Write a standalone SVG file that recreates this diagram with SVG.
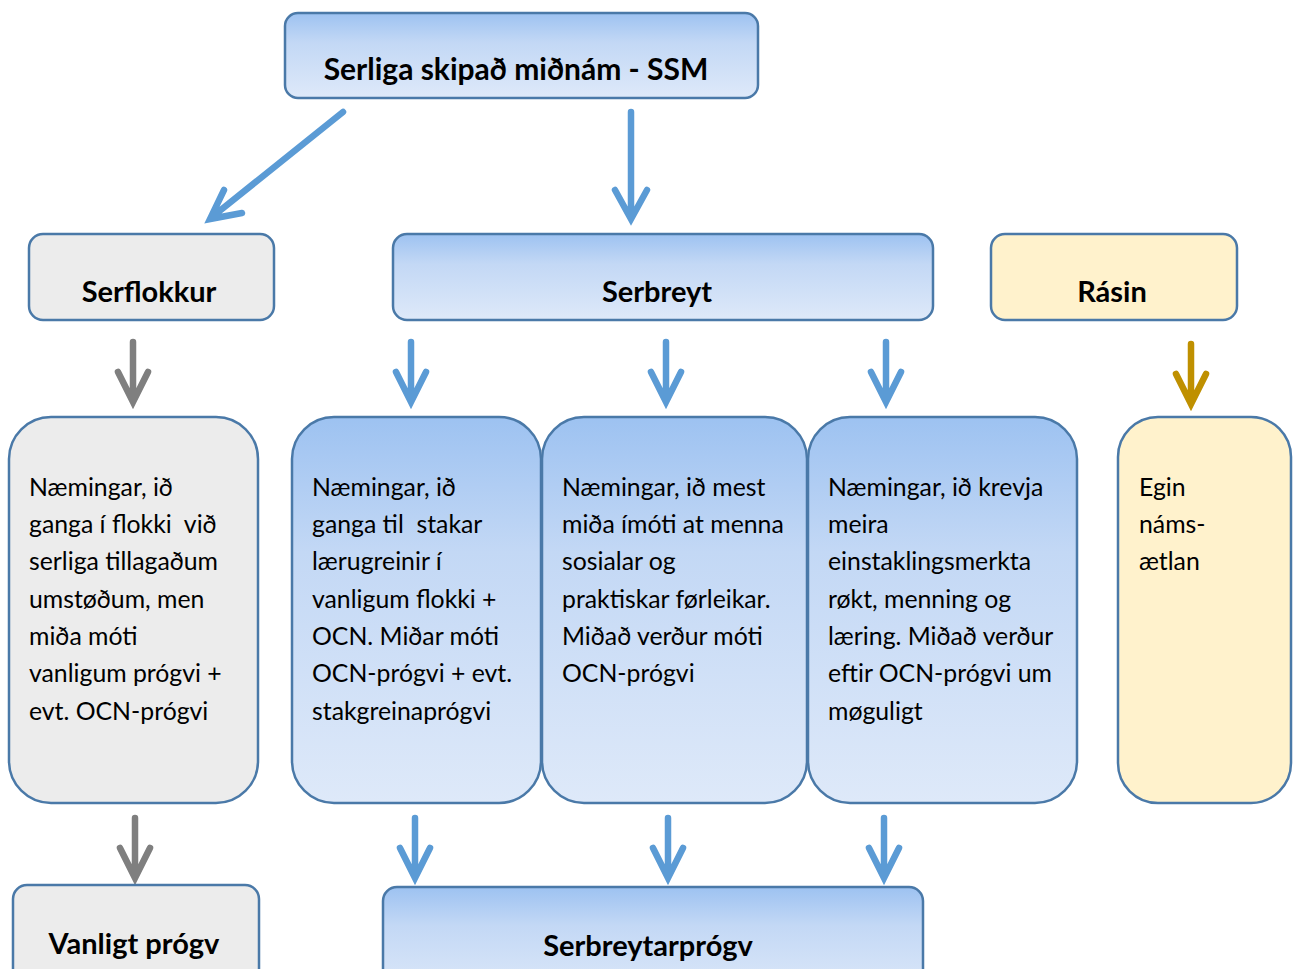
<svg xmlns="http://www.w3.org/2000/svg" width="1293" height="969" viewBox="0 0 1293 969">
<defs>
<linearGradient id="blueGrad" x1="0" y1="0" x2="0" y2="1">
<stop offset="0" stop-color="#9dc2f1"/>
<stop offset="0.35" stop-color="#c3d8f5"/>
<stop offset="1" stop-color="#dee9f9"/>
</linearGradient>
<style>
.box{stroke:#4a79a8;stroke-width:2.5}
.blue{fill:url(#blueGrad)}
.grey{fill:#ececec}
.yellow{fill:#fff2cc}
.title{font-family:Lato,"Liberation Sans",sans-serif;font-weight:bold;font-size:29px;fill:#000;text-anchor:middle}
.big{font-size:30px}
.body{font-family:Lato,"Liberation Sans",sans-serif;font-size:24.8px;fill:#000;white-space:pre}
.arr{fill:none;stroke-width:6.5;stroke-linecap:round;stroke-linejoin:miter}
.ab{stroke:#5b9bd5}
.ag{stroke:#7f7f7f}
.ay{stroke:#bf9000}
</style>
</defs>
<g id="connectors">
<path class="arr ab" d="M343,112 L212,217 M224,190 L210,219 L242,213"/>
<path class="arr ab" d="M631,112 L631,216 M615,190 L631,219 L647,190"/>
<path class="arr ag" d="M133,342 L133,400 M118,372 L133,402 L148,372"/>
<path class="arr ab" d="M411,342 L411,400 M396,372 L411,402 L426,372"/>
<path class="arr ab" d="M666,342 L666,400 M651,372 L666,402 L681,372"/>
<path class="arr ab" d="M886,342 L886,400 M871,372 L886,402 L901,372"/>
<path class="arr ay" d="M1191,344 L1191,402 M1176,374 L1191,404 L1206,374"/>
<path class="arr ag" d="M135,818 L135,876 M120,848 L135,878 L150,848"/>
<path class="arr ab" d="M415,818 L415,876 M400,848 L415,878 L430,848"/>
<path class="arr ab" d="M668,818 L668,876 M653,848 L668,878 L683,848"/>
<path class="arr ab" d="M884,818 L884,876 M869,848 L884,878 L899,848"/>
</g>
<g id="ssm">
<rect class="box blue" x="285" y="13" width="473" height="85" rx="13"/>
<text class="title big" x="516" y="80">Serliga skipað miðnám - SSM</text>
</g>
<g id="serflokkur">
<rect class="box grey" x="29" y="234" width="245" height="86" rx="14"/>
<text class="title" x="149" y="302">Serflokkur</text>
</g>
<g id="serbreyt">
<rect class="box blue" x="393" y="234" width="540" height="86" rx="14"/>
<text class="title" x="657" y="302">Serbreyt</text>
</g>
<g id="rasin">
<rect class="box yellow" x="991" y="234" width="246" height="86" rx="14"/>
<text class="title" x="1112" y="302">Rásin</text>
</g>
<g id="box1">
<rect class="box grey" x="9" y="417" width="249" height="386" rx="42"/>
<text class="body"><tspan x="29" y="496">Næmingar, ið</tspan><tspan x="29" y="533">ganga í flokki  við</tspan><tspan x="29" y="570">serliga tillagaðum</tspan><tspan x="29" y="608">umstøðum, men</tspan><tspan x="29" y="645">miða móti</tspan><tspan x="29" y="682">vanligum prógvi +</tspan><tspan x="29" y="720">evt. OCN-prógvi</tspan></text>
</g>
<g id="box2">
<rect class="box blue" x="292" y="417" width="249" height="386" rx="42"/>
<text class="body"><tspan x="312" y="496">Næmingar, ið</tspan><tspan x="312" y="533">ganga til  stakar</tspan><tspan x="312" y="570">lærugreinir í</tspan><tspan x="312" y="608">vanligum flokki +</tspan><tspan x="312" y="645">OCN. Miðar móti</tspan><tspan x="312" y="682">OCN-prógvi + evt.</tspan><tspan x="312" y="720">stakgreinaprógvi</tspan></text>
</g>
<g id="box3">
<rect class="box blue" x="542" y="417" width="265" height="386" rx="42"/>
<text class="body"><tspan x="562" y="496">Næmingar, ið mest</tspan><tspan x="562" y="533">miða ímóti at menna</tspan><tspan x="562" y="570">sosialar og</tspan><tspan x="562" y="608">praktiskar førleikar.</tspan><tspan x="562" y="645">Miðað verður móti</tspan><tspan x="562" y="682">OCN-prógvi</tspan></text>
</g>
<g id="box4">
<rect class="box blue" x="808" y="417" width="269" height="386" rx="42"/>
<text class="body"><tspan x="828" y="496">Næmingar, ið krevja</tspan><tspan x="828" y="533">meira</tspan><tspan x="828" y="570">einstaklingsmerkta</tspan><tspan x="828" y="608">røkt, menning og</tspan><tspan x="828" y="645">læring. Miðað verður</tspan><tspan x="828" y="682">eftir OCN-prógvi um</tspan><tspan x="828" y="720">møguligt</tspan></text>
</g>
<g id="box5">
<rect class="box yellow" x="1118" y="417" width="173" height="386" rx="40"/>
<text class="body"><tspan x="1139" y="496">Egin</tspan><tspan x="1139" y="533">náms-</tspan><tspan x="1139" y="570">ætlan</tspan></text>
</g>
<g id="vanligt">
<rect class="box grey" x="13" y="885" width="246" height="110" rx="14"/>
<text class="title" x="134" y="954">Vanligt prógv</text>
</g>
<g id="serbreytarprogv">
<rect class="box blue" x="383" y="887" width="540" height="110" rx="14"/>
<text class="title" x="648" y="956">Serbreytarprógv</text>
</g>
</svg>
